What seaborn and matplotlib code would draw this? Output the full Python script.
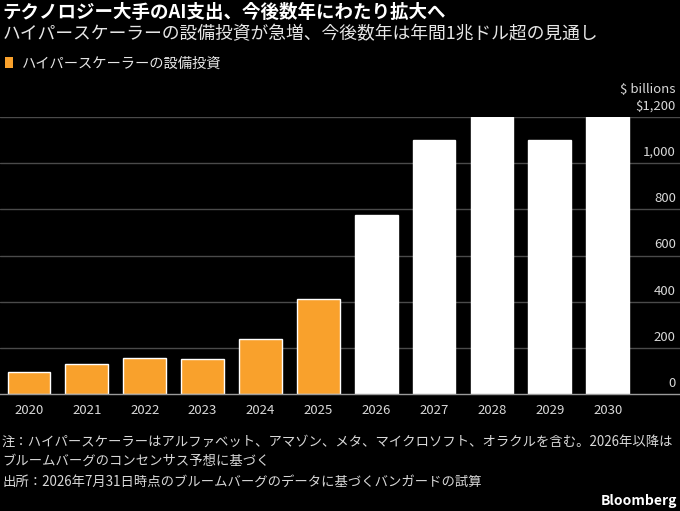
import matplotlib
matplotlib.use("Agg")
import matplotlib.pyplot as plt
import seaborn as sns
import pandas as pd
from matplotlib.patches import Patch

# data ($ billions)
years = ["2020", "2021", "2022", "2023", "2024", "2025",
         "2026", "2027", "2028", "2029", "2030"]
capex = [95, 130, 157, 152, 239, 414, 775, 1098, 1200, 1098, 1200]
is_forecast = [False] * 6 + [True] * 5
y_ticks = [0, 200, 400, 600, 800, 1000, 1200]
y_tick_labels = ["0", "200", "400", "600", "800", "1,000", "$1,200"]

title = "テクノロジー大手のAI支出、今後数年にわたり拡大へ"
subtitle = "ハイパースケーラーの設備投資が急増、今後数年は年間1兆ドル超の見通し"
legend_label = "ハイパースケーラーの設備投資"
note = ("注：ハイパースケーラーはアルファベット、アマゾン、メタ、マイクロソフト、オラクルを含む。2026年以降は\n"
        "ブルームバーグのコンセンサス予想に基づく")
source = "出所：2026年7月31日時点のブルームバーグのデータに基づくバンガードの試算"

ORANGE = "#F9A12C"
WHITE = "#FFFFFF"
BG = "#000000"

sns.set_style("white")
plt.rcParams["font.family"] = ["Noto Sans CJK JP", "DejaVu Sans"]

df = pd.DataFrame({"year": years, "capex": capex, "forecast": is_forecast})
colors = [WHITE if f else ORANGE for f in is_forecast]

fig = plt.figure(figsize=(6.8, 5.11), dpi=100, facecolor=BG)
ax = fig.add_axes([0, 1 - 394.3 / 511, 1, (394.3 - 116.7) / 511])
ax.set_facecolor(BG)

sns.barplot(data=df, x="year", y="capex", hue="year", palette=colors,
            legend=False, width=0.74, saturation=1, ax=ax, zorder=3)

ax.set_xlim(-0.5, 11.25)
ax.set_ylim(0, 1200)
ax.set_xlabel("")
ax.set_ylabel("")

# gridlines and right-side labels sitting above them
ax.set_yticks(y_ticks)
ax.set_yticklabels([])
ax.tick_params(axis="y", length=0)
for v, lab in zip(y_ticks, y_tick_labels):
    if v > 0:
        ax.axhline(v, color="#4a4a4a", lw=1, zorder=1)
    ax.annotate(lab, xy=(1, v), xycoords=("axes fraction", "data"),
                xytext=(-3, 3), textcoords="offset points",
                ha="right", va="bottom", color="#d9d9d9", fontsize=9.5)
ax.annotate("$ billions", xy=(1, 1200), xycoords=("axes fraction", "data"),
            xytext=(-3, 15), textcoords="offset points",
            ha="right", va="bottom", color="#d9d9d9", fontsize=9.5)

for s in ["top", "left", "right"]:
    ax.spines[s].set_visible(False)
ax.spines["bottom"].set_color("#9a9a9a")
ax.spines["bottom"].set_linewidth(1)
ax.spines["bottom"].set_zorder(4)
ax.tick_params(axis="x", length=5, width=1, color="#9a9a9a", pad=2,
               labelcolor="#d9d9d9", labelsize=9.5)

# titles
fig.text(0.004, 1 - 12.5 / 511, title, color=WHITE, fontsize=13.3,
         fontweight="bold", va="center", ha="left")
fig.text(0.004, 1 - 34.5 / 511, subtitle, color="#e6e6e6", fontsize=12.8,
         va="center", ha="left")

fig.legend(handles=[Patch(facecolor=ORANGE, edgecolor="none", label=legend_label)],
           loc="center left", bbox_to_anchor=(-0.012, 1 - 63.5 / 511),
           frameon=False, handlelength=0.6, handleheight=0.75, handletextpad=0.6,
           fontsize=10.3, labelcolor="#e6e6e6")

# notes
fig.text(0.003, 1 - 451 / 511, note, color="#d9d9d9", fontsize=9.6,
         va="center", ha="left", linespacing=1.4)
fig.text(0.003, 1 - 483 / 511, source, color="#d9d9d9", fontsize=9.6,
         va="center", ha="left")
fig.text(0.996, 1 - 501 / 511, "Bloomberg", color=WHITE, fontsize=10,
         fontweight="bold", va="center", ha="right")

fig.savefig("out.png", dpi=100, facecolor=BG)
